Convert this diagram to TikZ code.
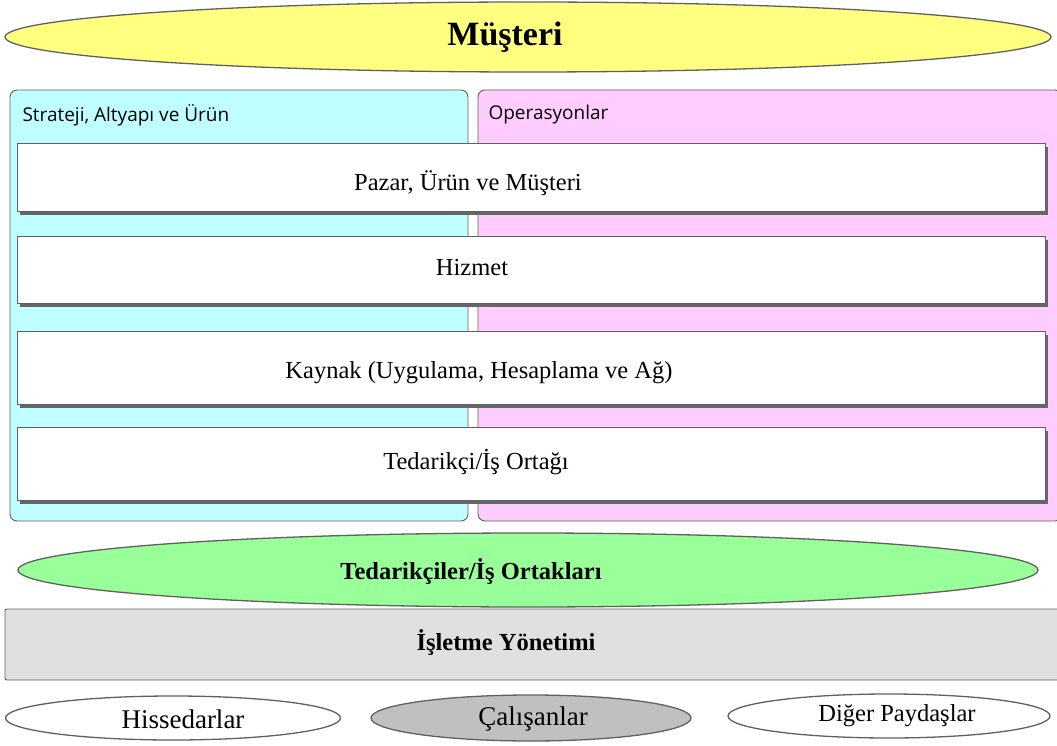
\documentclass[tikz,border=0pt]{standalone}
\usepackage{fontspec}
\setmainfont{Liberation Serif}
\newfontfamily\panelfont{Open Sans}
\usetikzlibrary{shapes.geometric}
\definecolor{custyellow}{HTML}{FFFF80}
\definecolor{stratcyan}{HTML}{C0FFFF}
\definecolor{opspink}{HTML}{FFCCFF}
\definecolor{suppgreen}{HTML}{99FF99}
\definecolor{mgmtgray}{HTML}{E0E0E0}
\definecolor{empgray}{HTML}{C0C0C0}
\definecolor{edgegray}{HTML}{606060}
\begin{document}
\begin{tikzpicture}[x=1pt,y=-1pt,
  oval/.style={ellipse, draw=edgegray, line width=1.3pt, inner sep=0pt},
  panel/.style={draw=edgegray, line width=0.9pt, rounded corners=7pt},
  layer/.style={draw=edgegray, line width=0.6pt, fill=white},
  layershadow/.style={fill=black!60},
  paneltitle/.style={anchor=west, font=\panelfont\fontsize{19}{22}\selectfont},
  layertext/.style={font=\fontsize{24.5}{28}\selectfont},
  staketext/.style={font=\fontsize{27}{30}\selectfont},
  boldtext/.style={font=\bfseries\fontsize{24.5}{28}\selectfont}]
\useasboundingbox (0,0) rectangle (1057,746);

% customer band
\node[oval, fill=custyellow, minimum width=1046pt, minimum height=70pt] (cust) at (528,37) {};
\node[font=\bfseries\fontsize{34}{38}\selectfont] (custlbl) at (505,37) {Müşteri};

% two background panels
\draw[panel, fill=stratcyan] (10,90) rectangle (468,521);
\draw[panel, fill=opspink] (478,90) rectangle (1062,521);
\node[paneltitle] (strat) at (19,115) {Strateji, Altyapı ve Ürün};
\node[paneltitle] (ops) at (485,115) {Operasyonlar};

% layered boxes with drop shadows
\foreach \top/\bot in {143/211, 236/303, 331/404, 427/500}{
  \fill[layershadow] (20,\top+4) rectangle (1048,\bot+4);
  \draw[layer] (17,\top) rectangle (1045,\bot);
}
\node[layertext] (market) at (468,183) {Pazar, Ürün ve Müşteri};
\node[layertext] (service) at (472,268) {Hizmet};
\node[layertext] (resource) at (479,373) {Kaynak (Uygulama, Hesaplama ve Ağ)};
\node[layertext] (supplier) at (476,462) {Tedarikçi/İş Ortağı};

% supplier band
\node[oval, fill=suppgreen, minimum width=1020pt, minimum height=74pt] (supp) at (528,570) {};
\node[boldtext] (supplbl) at (471,572) {Tedarikçiler/İş Ortakları};

% enterprise management bar
\draw[draw=edgegray, line width=0.9pt, fill=mgmtgray, rounded corners=2pt] (5,609) rectangle (1062,680);
\node[boldtext] (mgmt) at (506,643) {İşletme Yönetimi};

% stakeholders
\node[oval, fill=white, minimum width=335pt, minimum height=44pt] (share) at (173,718) {};
\node[staketext] at (183,719) {Hissedarlar};
\node[oval, fill=empgray, minimum width=320pt, minimum height=46pt] (emp) at (531,718) {};
\node[staketext] at (533,719) {Çalışanlar};
\node[oval, fill=white, minimum width=322pt, minimum height=44pt] (other) at (889,716) {};
\node[layertext] at (897,716) {Diğer Paydaşlar};
\end{tikzpicture}
\end{document}
